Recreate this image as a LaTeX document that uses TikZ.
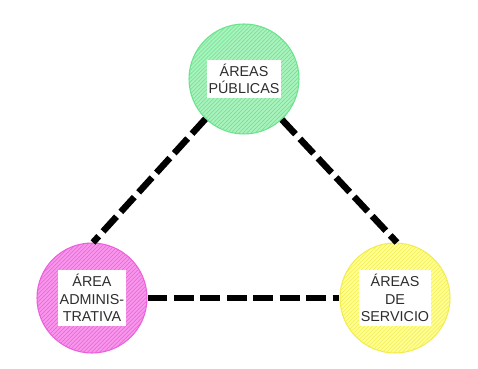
\documentclass[tikz,border=0pt]{standalone}
\usepackage{fontspec}
\setmainfont{Liberation Sans}
\usetikzlibrary{patterns}

\definecolor{pubfill}{RGB}{170,242,190}
\definecolor{publine}{RGB}{105,228,140}
\definecolor{admfill}{RGB}{248,150,236}
\definecolor{admline}{RGB}{238,95,222}
\definecolor{srvfill}{RGB}{255,255,150}
\definecolor{srvline}{RGB}{242,236,80}
\definecolor{tagtext}{RGB}{45,45,45}

\tikzset{
  zone/.style={circle, minimum size=2.910cm, inner sep=0pt, line width=0.8pt,
    draw=#1line, fill=#1fill,
    postaction={pattern=north east lines, pattern color=#1line}},
  tag/.style={fill=white, align=center, inner xsep=1.2pt, inner ysep=3.2pt,
    text=tagtext, font=\fontsize{10.8}{13.2}\selectfont},
  link/.style={line width=4.9pt, dash pattern=on 15pt off 4.9pt, line cap=butt}
}

\begin{document}
\begin{tikzpicture}
\useasboundingbox[fill=white] (0,0) rectangle (12.647,9.737);
\node[zone=pub] (pub) at (6.456,7.647) {};
\node[zone=adm] (adm) at (2.434,1.852) {};
\node[zone=srv] (srv) at (10.451,1.852) {};
\node[tag] (pubtag) at (pub) {ÁREAS\\PÚBLICAS};
\node[tag] (admtag) at (adm) {ÁREA\\ADMINIS-\\TRATIVA};
\node[tag] (srvtag) at (srv) {ÁREAS\\DE\\SERVICIO};
\draw[link] (pub.226) -- (adm.89);
\draw[link] (pub.313) -- (srv.88);
\draw[link] (adm.east) -- (srv.west);
\end{tikzpicture}
\end{document}
